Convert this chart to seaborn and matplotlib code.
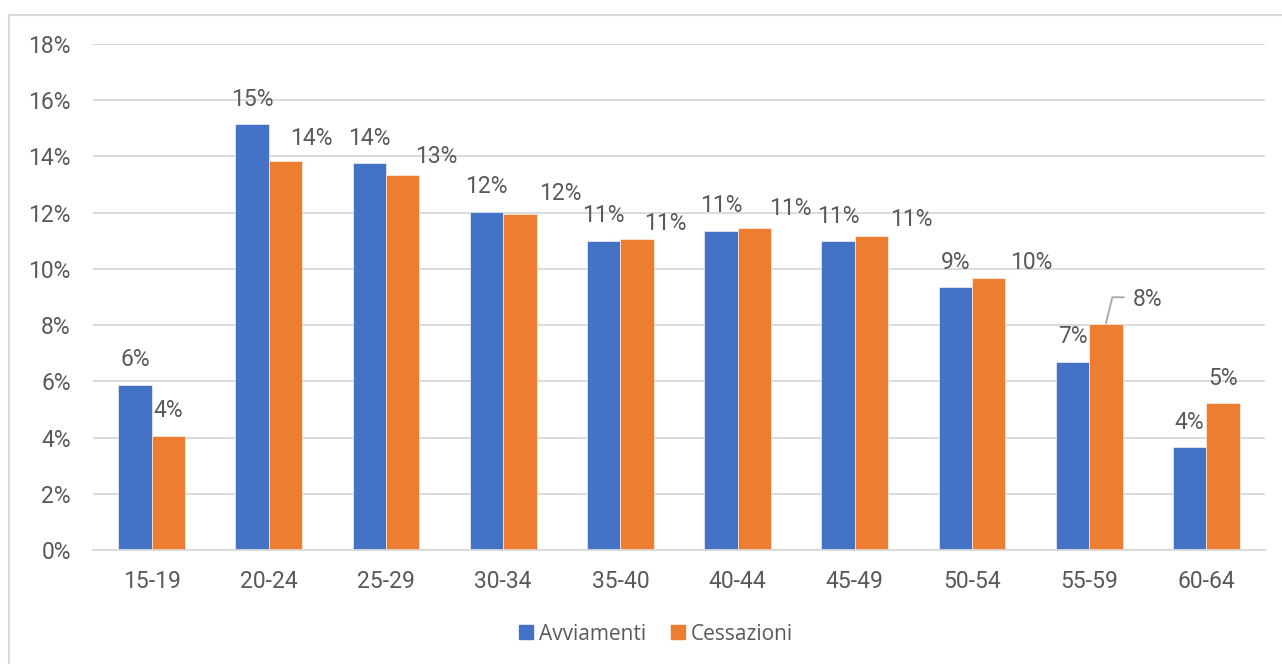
import matplotlib
matplotlib.use("Agg")
import matplotlib.pyplot as plt
from matplotlib.lines import Line2D
from matplotlib.transforms import IdentityTransform
import seaborn as sns
import pandas as pd

# Share of hires and terminations by age group (%)
age_groups = ["15-19", "20-24", "25-29", "30-34", "35-40",
              "40-44", "45-49", "50-54", "55-59", "60-64"]
avviamenti = [5.87, 15.15, 13.75, 12.03, 11.00, 11.36, 10.99, 9.35, 6.70, 3.66]
cessazioni = [4.07, 13.83, 13.35, 11.95, 11.08, 11.46, 11.17, 9.67, 8.03, 5.22]
series_names = ["Avviamenti", "Cessazioni"]
y_ticks = [0, 2, 4, 6, 8, 10, 12, 14, 16, 18]

# pixel offsets of the value labels from the top-centre of each bar
label_offsets_a = [(0, 25)] * 10
label_offsets_c = [(0, 25), (26, 23), (34, 18), (40, 21), (28, 15),
                   (36, 19), (40, 16), (43, 16), (42, 25), (0, 25)]
leader_idx = 8  # the 55-59 termination label is tied to its bar by a line

BLUE = "#4472C4"
ORANGE = "#ED7D31"
GRID = "#D9D9D9"
TEXT = "#595959"

df = pd.DataFrame({
    "age": age_groups * 2,
    "value": avviamenti + cessazioni,
    "series": [series_names[0]] * len(age_groups) + [series_names[1]] * len(age_groups),
})

sns.set_theme(style="white")
plt.rcParams["font.family"] = ["Roboto", "DejaVu Sans"]

W, H = 1282, 664
fig = plt.figure(figsize=(W / 100, H / 100), dpi=100)
ax = fig.add_axes([93 / W, 1 - 550 / H, (1265 - 93) / W, (550 - 44) / H])

sns.barplot(data=df, x="age", y="value", hue="series", order=age_groups,
            hue_order=series_names, palette=[BLUE, ORANGE], width=0.57,
            gap=0, saturation=1, ax=ax, legend=False, edgecolor="white",
            linewidth=0.4)

ax.set_ylim(0, 18)
ax.set_xlim(-0.5, len(age_groups) - 0.5)
ax.set_yticks(y_ticks)
ax.set_yticklabels([f"{t}%" for t in y_ticks])
ax.set_xlabel("")
ax.set_ylabel("")
ax.yaxis.grid(True, color=GRID, linewidth=1.3)
ax.set_axisbelow(True)
for side in ["left", "right", "top"]:
    ax.spines[side].set_visible(False)
ax.spines["bottom"].set_color(GRID)
ax.spines["bottom"].set_linewidth(1.3)
ax.tick_params(axis="both", length=0, colors=TEXT, labelsize=16.5)
ax.tick_params(axis="y", pad=16)
ax.tick_params(axis="x", pad=14.5)

# value labels
half = 0.57 / 4
for i in range(len(age_groups)):
    for vals, offs, sign in ((avviamenti, label_offsets_a, -1),
                             (cessazioni, label_offsets_c, 1)):
        v = vals[i]
        dx, dy = offs[i]
        ax.annotate(f"{round(v)}%", xy=(i + sign * half, v), xytext=(dx, dy),
                    textcoords="offset pixels", ha="center", va="center",
                    fontsize=16.5, color=TEXT)

# leader line for the moved label
fig.canvas.draw()
bx, by = ax.transData.transform((leader_idx + half, cessazioni[leader_idx]))
pts_x = [bx, bx + 6.5, bx + 18]
pts_y = [by + 1, by + 27, by + 27]
fig.add_artist(Line2D(pts_x, pts_y, transform=IdentityTransform(),
                      color="#A6A6A6", linewidth=1.3))

# legend
handles = [plt.Rectangle((0, 0), 1, 1, color=BLUE),
           plt.Rectangle((0, 0), 1, 1, color=ORANGE)]
leg = fig.legend(handles, series_names, loc="center",
                 bbox_to_anchor=(656 / W, 1 - 634 / H), ncol=2, frameon=False,
                 handlelength=0.67, handleheight=0.67, handletextpad=0.3,
                 columnspacing=1.2,
                 prop={"family": ["Open Sans", "DejaVu Sans"], "size": 15})
for t in leg.get_texts():
    t.set_color(TEXT)

# chart frame (left and top edges visible)
fig.add_artist(Line2D([9 / W, 9 / W, 1.01], [-0.01, 1 - 14.5 / H, 1 - 14.5 / H],
                      transform=fig.transFigure, color="#D9D9D9", linewidth=1.5))

fig.savefig("out.png", dpi=100)
